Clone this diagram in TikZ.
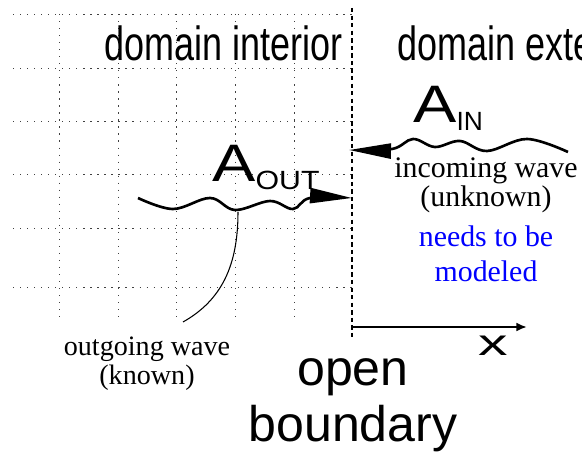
\documentclass[tikz,border=0pt]{standalone}
\usepackage{graphicx}
\usepackage{fontspec}
\setmainfont{Liberation Serif}
\newfontfamily\helv{Liberation Sans}
\usetikzlibrary{arrows.meta, positioning}

\begin{document}
\begin{tikzpicture}[
  x=0.02cm, y=-0.02cm,
  gridline/.style={line width=0.5pt, dash pattern=on 0.7pt off 3.3pt, black!75},
  border/.style={line width=0.9pt, dash pattern=on 2.5pt off 1.8pt},
  wave/.style={line width=1.5pt, -{Triangle[length=0.84cm, width=0.30cm]}},
  axis/.style={line width=1.5pt, -{Latex[length=6pt, width=5pt]}},
  bigsans/.style={font=\helv\fontsize{27.3}{30}\selectfont, inner sep=0pt, anchor=base west},
  amp/.style={font=\helv\fontsize{30}{30}\selectfont, inner sep=0pt, anchor=base west},
  note/.style={align=center, inner sep=0pt, anchor=base}
]

\useasboundingbox (0,0) rectangle (582,452);
\clip (0,0) rectangle (582,452);

% Grid of the interior
\foreach \yy in {14,68,121,174,228,287}
  \draw[gridline] (13,\yy) -- (352,\yy);
\foreach \xx in {59,118,176,235,294}
  \draw[gridline] (\xx,14) -- (\xx,322);

% Coordinates
\coordinate (btop) at (352,8);
\coordinate (bbot) at (352,340);
\coordinate (xorig) at (353,327);
\coordinate (xend) at (527,327);
\coordinate (outstart) at (138,198);
\coordinate (outhead) at (352,198);
\coordinate (instart) at (568,152);
\coordinate (inhead) at (349,150);
\coordinate (outmark) at (238,212);
\coordinate (outfoot) at (183,322);

% Nodes (base = baseline of the last line)
\node[bigsans] (domint) at (104,61) {\scalebox{0.75}[1]{domain interior}};
\node[bigsans] (domext) at (397,61) {\scalebox{0.75}[1]{domain exterior}};

\node[amp] (aout) at (212,182) {\scalebox{1.23}[1]{A}\raisebox{-4.5pt}{\fontsize{15}{15}\selectfont\scalebox{1.15}[1]{OUT}}};
\node[amp] (ain) at (413,123) {\scalebox{1.23}[1]{A}\raisebox{-4pt}{\fontsize{15}{15}\selectfont IN}};

\node[note, font=\fontsize{17}{17}\selectfont] (inlbl) at (486,207) {incoming wave\\(unknown)};
\node[note, font=\fontsize{17}{20}\selectfont, text=blue] (model) at (486,282) {needs to be\\modeled};
\node[note, font=\fontsize{16}{17}\selectfont] (outlbl) at (147,385) {outgoing wave\\(known)};

\node[note, font=\helv\fontsize{28.5}{32.4}\selectfont] (openb) at (353,442) {open\\boundary};
\node[font=\helv\fontsize{21}{21}\selectfont, inner sep=0pt] (xlbl) at (493,346) {\scalebox{1.6}[1]{x}};

% Boundary and axis
\draw[border] (btop) -- (bbot);
\draw[axis] (xorig) -- (xend);

% Waves
\draw[wave] plot[smooth, tension=0.6] coordinates {(outstart) (173,209) (210,198) (235,210) (270,201) (293,209) (310,198) (outhead)};
\draw[wave] plot[smooth, tension=0.6] coordinates {(instart) (527,139) (487,151) (460,141) (435,147) (413,139) (392,149) (inhead)};
\draw[line width=0.6pt] (outmark) .. controls (238,265) and (222,300) .. (outfoot);

\end{tikzpicture}
\end{document}
